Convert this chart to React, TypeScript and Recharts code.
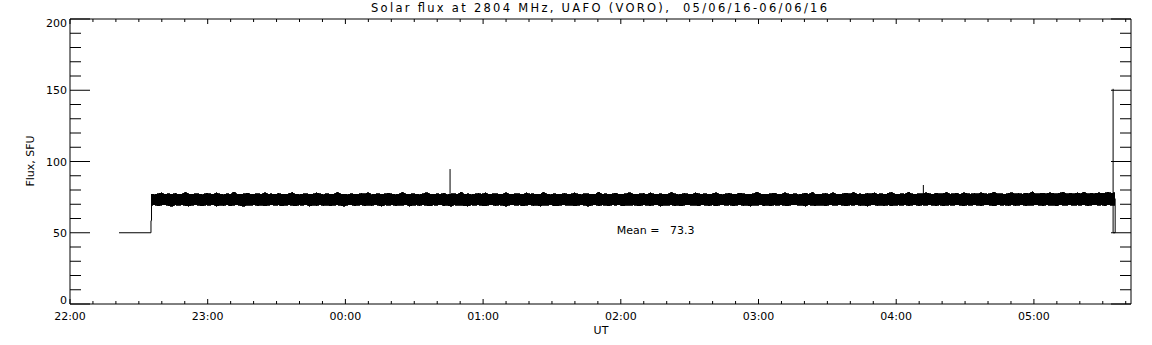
import React from 'react';
import {
  ComposedChart,
  Area,
  Line,
  XAxis,
  YAxis,
  ReferenceDot,
  Customized
} from 'recharts';

// Plot box (pixels) - IDL style frame
const PL = 70;
const PR = 1131;
const PT = 19;
const PB = 304;

const FONT = '"DejaVu Sans", sans-serif';

// Time axis in hours after 22:00 UT
const X_MAX = 7.705;
const HOUR_LABELS = ['22:00', '23:00', '00:00', '01:00', '02:00', '03:00', '04:00', '05:00'];
const X_TICKS = Array.from({ length: 47 }, (_, i) => i / 6);
const Y_TICKS = Array.from({ length: 21 }, (_, i) => i * 10);

// Noise band of the flux record (upper / lower envelope, SFU), one pair every 1.5 min from 22:35
const BAND_T0 = 0.59;
const BAND_STEP = 0.025;
const BAND_HI = [
  77.2, 76.8, 77.4, 78.1, 76.9, 77.3, 77.0, 77.6, 76.8, 77.2, 78.4, 77.0, 76.9, 77.5, 77.1, 76.8, 77.7, 77.3, 76.9, 78.0,
  77.1, 76.8, 77.4, 77.0, 78.6, 77.2, 76.9, 77.3, 77.8, 76.8, 77.1, 77.5, 76.9, 78.2, 77.0, 77.3, 76.8, 77.6, 77.1, 76.9,
  77.4, 78.3, 77.0, 76.8, 77.2, 77.6, 76.9, 77.1, 78.0, 77.3, 76.8, 77.5, 77.0, 76.9, 78.5, 77.2, 77.0, 76.8, 77.4, 77.1,
  76.9, 77.7, 77.2, 78.1, 76.8, 77.0, 77.5, 76.9, 77.3, 77.9, 77.0, 76.8, 77.2, 78.4, 77.1, 76.9, 77.6, 77.0, 76.8, 77.3,
  78.2, 77.1, 76.9, 77.4, 77.0, 77.8, 76.8, 77.2, 77.5, 76.9, 78.7, 77.0, 77.3, 76.8, 77.1, 77.6, 77.0, 78.0, 76.9, 77.2,
  77.4, 76.8, 77.1, 78.3, 77.0, 76.9, 77.5, 77.2, 76.8, 77.9, 77.1, 77.3, 76.9, 77.0, 78.5, 77.2, 76.8, 77.4, 77.1, 77.0,
  77.7, 76.9, 77.2, 78.1, 77.0, 76.8, 77.5, 77.3, 76.9, 77.1, 78.6, 77.0, 77.4, 76.8, 77.2, 77.8, 76.9, 77.1, 77.5, 78.2,
  77.0, 76.9, 77.3, 77.6, 76.8, 78.0, 77.2, 77.0, 77.4, 76.9, 77.1, 78.4, 77.3, 76.8, 77.0, 77.6, 77.2, 76.9, 78.1, 77.3,
  77.0, 77.5, 76.9, 77.2, 78.3, 77.1, 76.8, 77.4, 77.7, 77.0, 76.9, 78.0, 77.3, 77.1, 76.8, 77.5, 78.6, 77.2, 77.0, 76.9,
  77.4, 77.8, 77.1, 76.9, 78.2, 77.3, 77.0, 77.5, 76.8, 77.2, 77.9, 77.0, 78.4, 77.1, 76.9, 77.3, 77.6, 77.0, 78.1, 77.2,
  76.9, 77.4, 77.8, 77.1, 78.5, 77.0, 77.3, 76.9, 77.6, 77.2, 78.0, 77.1, 77.4, 76.9, 77.7, 78.3, 77.2, 77.0, 77.5, 77.1,
  78.6, 77.3, 77.0, 77.6, 77.2, 78.1, 77.4, 77.0, 77.8, 77.2, 77.5, 78.4, 77.1, 77.3, 77.7, 77.0, 78.2, 77.4, 77.1, 77.6,
  77.3, 78.0, 77.5, 77.1, 77.8, 78.5, 77.2, 77.4, 77.0, 77.7, 78.2, 77.3, 77.6, 77.1, 77.9, 77.4, 78.7, 77.2, 77.5, 77.8,
  77.3, 78.1, 77.6, 77.2, 77.9, 78.4, 77.4, 77.7, 77.3, 78.0, 77.5, 78.6, 77.2, 77.8, 77.4, 78.2, 77.6, 77.9, 78.5, 77.7,
  78.3
];
const BAND_LO = [
  69.3, 69.6, 68.9, 69.4, 69.7, 69.1, 68.5, 69.5, 69.2, 69.6, 69.0, 68.7, 69.4, 69.6, 69.2, 68.8, 69.5, 69.3, 69.7, 68.6,
  69.4, 69.1, 69.6, 68.9, 69.3, 69.7, 69.0, 68.4, 69.5, 69.2, 69.6, 69.0, 69.4, 68.8, 69.3, 69.7, 69.1, 69.5, 68.7, 69.4,
  69.6, 69.2, 68.9, 69.5, 69.3, 69.7, 68.6, 69.4, 69.1, 69.6, 69.0, 69.5, 68.8, 69.3, 69.6, 69.2, 68.5, 69.4, 69.7, 69.0,
  69.3, 69.6, 68.9, 69.4, 69.1, 69.7, 69.2, 68.7, 69.5, 69.3, 69.6, 68.9, 69.4, 69.2, 69.7, 68.6, 69.3, 69.5, 69.0, 69.6,
  69.2, 68.8, 69.5, 69.3, 69.7, 69.0, 69.4, 68.5, 69.6, 69.2, 69.4, 69.0, 68.7, 69.5, 69.3, 69.6, 69.1, 68.9, 69.4, 69.7,
  69.0, 69.5, 69.3, 68.6, 69.4, 69.7, 69.1, 69.5, 68.8, 69.3, 69.6, 69.0, 69.4, 68.7, 69.5, 69.2, 69.7, 69.0, 68.9, 69.4,
  69.6, 69.1, 69.5, 68.8, 69.3, 69.7, 69.2, 68.6, 69.4, 69.6, 69.0, 69.5, 69.2, 68.9, 69.6, 69.3, 69.7, 68.7, 69.4, 69.1,
  69.5, 69.2, 68.8, 69.6, 69.3, 69.0, 69.5, 69.7, 68.6, 69.4, 69.2, 69.6, 69.0, 69.3, 68.8, 69.5, 69.7, 69.1, 69.4, 68.9,
  69.6, 69.3, 69.0, 69.5, 68.7, 69.4, 69.7, 69.2, 69.5, 68.9, 69.3, 69.6, 69.0, 69.4, 68.6, 69.5, 69.2, 69.7, 69.0, 69.4,
  68.8, 69.5, 69.3, 69.6, 69.1, 68.9, 69.5, 69.7, 69.2, 69.4, 68.7, 69.6, 69.3, 69.0, 69.5, 69.2, 68.9, 69.6, 69.4, 69.1,
  69.7, 69.2, 68.8, 69.5, 69.3, 69.6, 69.0, 69.4, 68.7, 69.5, 69.7, 69.1, 69.4, 69.0, 69.6, 68.9, 69.3, 69.5, 69.2, 69.7,
  69.0, 69.4, 69.6, 68.8, 69.5, 69.2, 69.7, 69.3, 69.0, 69.6, 68.9, 69.4, 69.5, 69.1, 69.7, 69.3, 68.8, 69.5, 69.2, 69.6,
  69.4, 69.0, 69.5, 69.7, 69.2, 68.9, 69.6, 69.3, 69.5, 69.1, 69.7, 69.0, 69.4, 69.6, 68.9, 69.5, 69.2, 69.7, 69.3, 69.0,
  69.6, 69.3, 69.5, 68.9, 69.7, 69.2, 69.4, 69.6, 69.1, 69.5, 69.3, 69.7, 69.0, 69.4, 69.6, 69.2, 69.5, 68.9, 69.7, 69.3,
  69.5
];

// Calibration level before the record starts, and at its end
const START_TRACE = [
  { t: 0.356, f: 50 },
  { t: 0.588, f: 50 },
  { t: 0.588, f: 58.5 },
  { t: 0.592, f: 58.5 },
  { t: 0.592, f: 77 }
];
const END_TRACE = [
  { t: 7.59, f: 74 },
  { t: 7.59, f: 50 },
  { t: 7.575, f: 50 },
  { t: 7.575, f: 151 }
];

// Isolated spikes
const SPIKE_T = [2.76, 6.197];
const SPIKE_PEAK = [94.7, 83.5];
const SPIKE_BASE = 76;

const MEAN_VALUE = 73.3;

const bandData = BAND_HI.map((hi, i) => ({ t: BAND_T0 + i * BAND_STEP, range: [BAND_LO[i], hi] }));
const spikeData = SPIKE_T.map((t, i) => [
  { t, f: SPIKE_BASE },
  { t, f: SPIKE_PEAK[i] }
]);

const isHour = (v: number) => Math.abs(v - Math.round(v)) < 1e-6;

const BottomTick = (props: any) => {
  const { x, payload } = props;
  const major = isHour(payload.value);
  return (
    <g>
      <line x1={x} x2={x} y1={PB} y2={PB - (major ? 5 : 3)} stroke="#000" strokeWidth={1} />
      {major && (
        <text x={x} y={320} textAnchor="middle" fontSize={11} fontFamily={FONT} fill="#000">
          {HOUR_LABELS[Math.round(payload.value)]}
        </text>
      )}
    </g>
  );
};

const TopTick = (props: any) => {
  const { x, payload } = props;
  const major = isHour(payload.value);
  return <line x1={x} x2={x} y1={PT} y2={PT + (major ? 5 : 3)} stroke="#000" strokeWidth={1} />;
};

const LeftTick = (props: any) => {
  const { y, payload } = props;
  const v = payload.value;
  const major = v % 50 === 0;
  let base = y + 4;
  if (v === 0) base = PB;
  if (v === 200) base = PT + 8;
  return (
    <g>
      <line x1={PL} x2={PL + (major ? 20 : 11)} y1={y} y2={y} stroke="#000" strokeWidth={1} />
      {major && (
        <text x={67} y={base} textAnchor="end" fontSize={11} fontFamily={FONT} fill="#000">
          {v}
        </text>
      )}
    </g>
  );
};

const RightTick = (props: any) => {
  const { y, payload } = props;
  const major = payload.value % 50 === 0;
  return <line x1={PR} x2={PR - (major ? 20 : 11)} y1={y} y2={y} stroke="#000" strokeWidth={1} />;
};

const Titles = () => (
  <g fontFamily={FONT} fill="#000">
    <text
      x={599}
      y={12}
      textAnchor="middle"
      fontSize={11.5}
      textLength={456}
      lengthAdjust="spacing"
      style={{ whiteSpace: 'pre' }}
    >
      {'Solar flux at 2804 MHz, UAFO (VORO),  05/06/16-06/06/16'}
    </text>
    <text x={601} y={334} textAnchor="middle" fontSize={11}>
      UT
    </text>
    <text transform="translate(34,161) rotate(-90)" textAnchor="middle" fontSize={11}>
      Flux, SFU
    </text>
  </g>
);

const MeanText = (props: any) => (
  <text
    x={props.cx}
    y={props.cy + 4}
    textAnchor="middle"
    fontSize={11}
    fontFamily={FONT}
    fill="#000"
    style={{ whiteSpace: 'pre' }}
  >
    {`Mean =   ${MEAN_VALUE}`}
  </text>
);

const axisLine = { stroke: '#000', strokeWidth: 1 };

export default function App() {
  return (
    <div style={{ position: 'absolute', left: 0, top: 0, width: 1152, height: 345, background: '#fff' }}>
      <ComposedChart
        width={1152}
        height={345}
        margin={{ top: PT - 1, right: 1152 - PR - 1, bottom: 345 - PB - 1, left: PL - 1 }}
      >
        <XAxis
          xAxisId="b"
          dataKey="t"
          type="number"
          domain={[0, X_MAX]}
          allowDataOverflow
          ticks={X_TICKS}
          interval={0}
          height={1}
          tickSize={0}
          tickLine={false}
          tick={<BottomTick />}
          axisLine={axisLine}
        />
        <XAxis
          xAxisId="t"
          orientation="top"
          dataKey="t"
          type="number"
          domain={[0, X_MAX]}
          allowDataOverflow
          ticks={X_TICKS}
          interval={0}
          height={1}
          tickSize={0}
          tickLine={false}
          tick={<TopTick />}
          axisLine={axisLine}
        />
        <YAxis
          yAxisId="l"
          type="number"
          domain={[0, 200]}
          allowDataOverflow
          ticks={Y_TICKS}
          interval={0}
          width={1}
          tickSize={0}
          tickLine={false}
          tick={<LeftTick />}
          axisLine={axisLine}
        />
        <YAxis
          yAxisId="r"
          orientation="right"
          type="number"
          domain={[0, 200]}
          allowDataOverflow
          ticks={Y_TICKS}
          interval={0}
          width={1}
          tickSize={0}
          tickLine={false}
          tick={<RightTick />}
          axisLine={axisLine}
        />

        <Area
          xAxisId="b"
          yAxisId="l"
          data={bandData}
          dataKey="range"
          type="linear"
          stroke="#000"
          strokeWidth={0.8}
          fill="#000"
          fillOpacity={1}
          shapeRendering="crispEdges"
          dot={false}
          activeDot={false}
          isAnimationActive={false}
        />
        <Line
          xAxisId="b"
          yAxisId="l"
          data={START_TRACE}
          dataKey="f"
          type="linear"
          stroke="#000"
          strokeWidth={1}
          dot={false}
          activeDot={false}
          isAnimationActive={false}
        />
        <Line
          xAxisId="b"
          yAxisId="l"
          data={END_TRACE}
          dataKey="f"
          type="linear"
          stroke="#000"
          strokeWidth={1}
          dot={false}
          activeDot={false}
          isAnimationActive={false}
        />
        {spikeData.map((d, i) => (
          <Line
            key={`spike-${i}`}
            xAxisId="b"
            yAxisId="l"
            data={d}
            dataKey="f"
            type="linear"
            stroke="#000"
            strokeWidth={1}
            dot={false}
            activeDot={false}
            isAnimationActive={false}
          />
        ))}

        <ReferenceDot xAxisId="b" yAxisId="l" x={4.253} y={52.1} r={0} shape={<MeanText />} />
        <Customized component={<Titles />} />
      </ComposedChart>
    </div>
  );
}
